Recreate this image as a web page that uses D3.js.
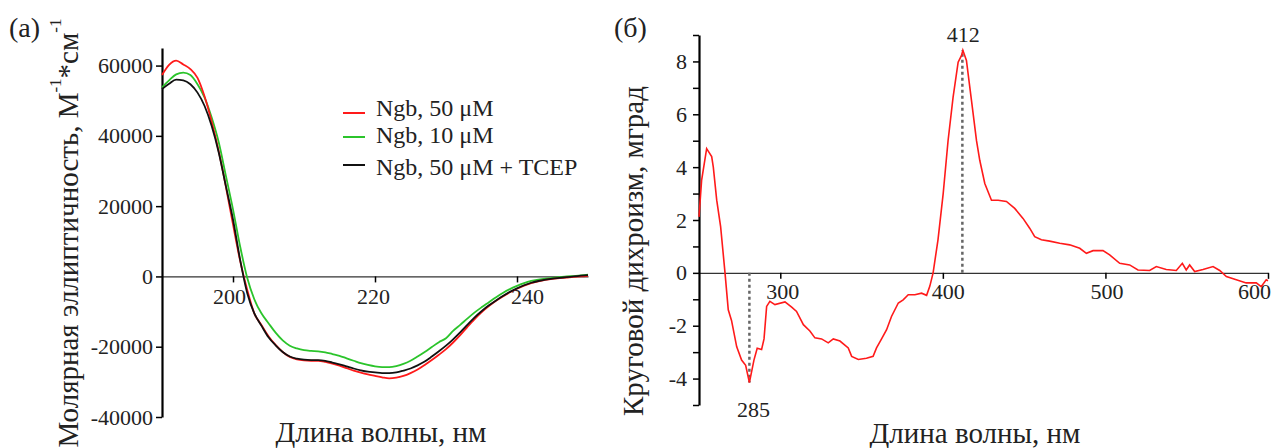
<!DOCTYPE html>
<html><head><meta charset="utf-8">
<script src="https://cdn.jsdelivr.net/npm/d3@7/dist/d3.min.js"></script>
</head>
<body style="margin:0;background:#fff">
<svg id="c" width="1275" height="448"></svg>
<script>
// ---------- DATA: panel (a) ----------
const wlA = d3.range(190, 251, 1);
const ngb50 = [57300,60200,61400,60300,59000,56500,51200,44000,35500,25500,
  14800,4500,-3800,-10500,-13800,-17000,-19500,-21500,-22900,-23600,
  -23900,-24000,-24000,-24300,-24800,-25400,-26100,-26800,-27400,-27900,
  -28300,-28700,-29000,-28800,-28300,-27500,-26500,-25200,-23800,-22300,
  -20700,-18800,-16700,-14400,-12200,-10200,-8500,-7000,-5700,-4500,
  -3500,-2600,-1900,-1400,-1000,-700,-500,-300,-100,0,200];
const ngb10 = [53800,55800,57500,58000,57300,54700,50900,45200,38100,28600,
  19100,8600,-400,-6500,-10500,-13300,-16000,-18200,-19700,-20500,
  -21000,-21200,-21300,-21600,-22100,-22600,-23300,-24000,-24700,-25200,
  -25600,-25800,-25800,-25500,-24900,-24000,-22800,-21500,-20100,-18700,
  -17600,-15500,-13800,-12000,-10300,-8800,-7400,-6000,-4700,-3600,
  -2700,-1900,-1300,-900,-600,-400,-200,0,100,300,500];
const ngbTcep = [53300,54800,56000,55800,54700,52300,48500,42800,35200,25700,
  16200,4800,-4700,-10500,-14000,-17300,-19600,-21500,-22800,-23400,
  -23700,-23800,-23800,-24000,-24500,-25000,-25600,-26200,-26700,-27100,
  -27300,-27500,-27500,-27300,-26800,-26200,-25300,-24200,-22800,-21300,
  -19700,-17900,-15900,-13800,-11700,-9900,-8300,-6900,-5600,-4400,
  -3400,-2500,-1800,-1300,-900,-600,-400,-200,0,200,400];
const seriesNames = ["Ngb, 50 \u03bcM", "Ngb, 10 \u03bcM", "Ngb, 50 \u03bcM + TCEP"];
const seriesColors = ["#ff1a1a", "#2bc42b", "#111111"];
const xTicksA = [200, 220, 240];
const yTicksA = [-40000, -20000, 0, 20000, 40000, 60000];

// ---------- DATA: panel (б) ----------
const wlB = [250,251.6,254.7,257.8,258.8,260.9,263.3,266,268,270,273.2,276.2,278.7,281,283.8,285.8,288.5,290,291.6,293.6,
  296.7,302.9,307,310,314.2,318.2,321.3,325.4,329.5,332.6,336.7,341.8,343.9,348,353,357.1,359.2,362.3,365.4,368.4,
  372.6,375.6,378.7,382.8,386.9,390,392,394,397,400.2,403.2,406.3,409.4,411.5,412.3,414.5,417.6,420.7,422.7,425.8,
  429.9,434,439.1,444.2,449.3,453.4,456.5,460.6,465.7,471.9,478,484.2,488.3,492.4,498.5,502.6,508.8,514.9,520,
  527.2,531.3,537.4,543.6,547.3,549.7,551.8,554.9,560,566.2,570.3,574.4,580.5,586.6,592.8,595.8,598.9,600];
const cdB = [2.12,3.5,4.7,4.4,4.0,2.75,1.75,0,-1.4,-1.8,-2.8,-3.3,-3.5,-4.15,-3.3,-2.85,-2.9,-2.5,-1.27,-1.08,
  -1.2,-1.1,-1.3,-1.46,-1.96,-2.2,-2.46,-2.5,-2.65,-2.5,-2.58,-2.84,-3.16,-3.28,-3.23,-3.16,-2.84,-2.5,-2.15,-1.65,
  -1.14,-1.02,-0.83,-0.83,-0.77,-0.85,-0.5,0,1.25,3.0,5.0,6.65,7.97,8.23,8.42,8.04,6.53,5.0,4.26,3.38,
  2.75,2.75,2.7,2.44,2.06,1.69,1.37,1.25,1.2,1.12,1.06,0.93,0.74,0.84,0.84,0.68,0.36,0.3,0.11,
  0.09,0.24,0.13,0.09,0.36,0.11,0.3,0.05,0.13,0.24,0.09,-0.14,-0.26,-0.38,-0.38,-0.52,-0.26,-0.3];
const xTicksB = [300, 400, 500, 600];
const yTicksB = d3.range(-5, 10, 1);
const markX = [281, 412];
const markY = [-4.15, 8.42];
const markLabels = ["285", "412"];

// ---------- DRAW ----------
const FONT = "Liberation Serif";
const svg = d3.select("#c");
const txt = "#222";

function styleAxis(g, w) {
  g.attr("font-family", FONT);
  g.select(".domain").attr("stroke", "#000").attr("stroke-width", w);
  g.selectAll(".tick line").attr("stroke", "#000").attr("stroke-width", 1.5);
  g.selectAll(".tick text").attr("fill", txt).attr("font-family", FONT).attr("font-size", 22);
}
function label(x, y, s, size, anchor) {
  return svg.append("text").attr("x", x).attr("y", y).attr("text-anchor", anchor || "start")
    .attr("fill", txt).attr("font-family", FONT).attr("font-size", size).text(s);
}

// Panel (a)
const xA = d3.scaleLinear().domain([190, 250]).range([162, 588]);
const yA = d3.scaleLinear().domain([-40000, 65000]).range([417, 48]);

const gxA = svg.append("g").attr("transform", `translate(0,${yA(0)})`)
  .call(d3.axisBottom(xA).tickValues(xTicksA).tickSize(6).tickSizeOuter(0).tickPadding(6).tickFormat(d => String(d)));
styleAxis(gxA, 1.2);
gxA.select(".domain").attr("stroke", "#333");
gxA.selectAll(".tick text").attr("dx", d => ({200: -4, 220: -2, 240: 10})[d]);

const gyA = svg.append("g").attr("transform", `translate(${xA(190)},0)`)
  .call(d3.axisLeft(yA).tickValues(yTicksA).tickSize(6).tickSizeOuter(0).tickPadding(3).tickFormat(d => String(d)));
styleAxis(gyA, 2.2);

const lineA = d3.line().x((d, i) => xA(wlA[i])).y(d => yA(d)).curve(d3.curveMonotoneX);
[ngb10, ngb50, ngbTcep].forEach((s, k) => {
  const idx = [1, 0, 2][k];
  svg.append("path").attr("d", lineA(s)).attr("fill", "none")
    .attr("stroke", seriesColors[idx]).attr("stroke-width", 1.8);
});

// legend
const legLineY = [113, 137, 165];
const legTextY = [116, 143, 175];
seriesNames.forEach((n, i) => {
  svg.append("line").attr("x1", 343).attr("x2", 365).attr("y1", legLineY[i]).attr("y2", legLineY[i])
    .attr("stroke", seriesColors[i]).attr("stroke-width", 2);
  label(376, legTextY[i], n, 24);
});

label(381, 442, "Длина волны, нм", 29, "middle");
const ytA = svg.append("text").attr("transform", "translate(78,233) rotate(-90)")
  .attr("text-anchor", "middle").attr("fill", txt).attr("font-family", FONT).attr("font-size", 29);
ytA.append("tspan").text("Молярная эллиптичность, М");
ytA.append("tspan").attr("dy", -17).attr("font-size", 17).text("-1");
ytA.append("tspan").attr("dy", 17).text("*см");
ytA.append("tspan").attr("dy", -17).attr("font-size", 17).text("-1");
label(9, 37, "(a)", 28);

// Panel (б)
const xB = d3.scaleLinear().domain([250, 600]).range([699, 1268]);
const yB = d3.scaleLinear().domain([-5, 9]).range([405, 35]);

const gxB = svg.append("g").attr("transform", `translate(0,${yB(0)})`)
  .call(d3.axisBottom(xB).tickValues(xTicksB).tickSize(6).tickSizeOuter(0).tickPadding(4.5).tickFormat(d => String(d)));
styleAxis(gxB, 1.2);
gxB.select(".domain").attr("stroke", "#333");
gxB.selectAll(".tick text").attr("dx", d => ({300: 2, 400: 5, 500: 1, 600: -14})[d]);

const gyB = svg.append("g").attr("transform", `translate(${xB(250)},0)`)
  .call(d3.axisLeft(yB).tickValues(yTicksB).tickSize(6).tickSizeOuter(0).tickPadding(6)
    .tickFormat(d => (d % 2 === 0 && d >= -4 && d <= 8) ? String(d) : ""));
styleAxis(gyB, 2.2);

// dotted markers
markX.forEach((mx, i) => {
  svg.append("line").attr("x1", xB(mx)).attr("x2", xB(mx)).attr("y1", yB(0)).attr("y2", yB(markY[i]))
    .attr("stroke", "#666").attr("stroke-width", 2.5).attr("stroke-dasharray", "3,3");
});
label(xB(markX[0]) + 4, 417, markLabels[0], 22, "middle");
label(xB(markX[1]) + 1, 42, markLabels[1], 22, "middle");

const lineB = d3.line().x((d, i) => xB(wlB[i])).y(d => yB(d));
svg.append("path").attr("d", lineB(cdB)).attr("fill", "none").attr("stroke", "#ff1a1a").attr("stroke-width", 1.6);

label(975, 443, "Длина волны, нм", 29, "middle");
svg.append("text").attr("transform", "translate(643,251) rotate(-90)")
  .attr("text-anchor", "middle").attr("fill", txt).attr("font-family", FONT).attr("font-size", 29)
  .text("Круговой дихроизм, мград");
label(614, 37, "(б)", 28);
</script>
</body></html>
